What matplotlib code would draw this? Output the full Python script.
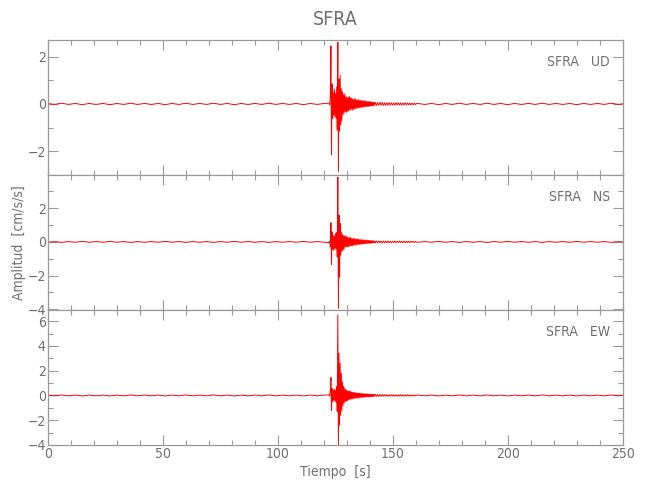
import matplotlib
matplotlib.use("Agg")
import matplotlib.pyplot as plt
from matplotlib.ticker import MultipleLocator
import numpy as np

plt.rcParams['font.family'] = ['DejaVu Sans']
plt.rcParams['font.stretch'] = 'condensed'

estacion = "SFRA"
componentes = ["UD", "NS", "EW"]

# muestreo de los tramos (s)
t_pre = np.arange(0, 122.25, 3.0)
t_sismo = np.arange(122.25, 142.25, 0.25)
t_coda = np.arange(142.25, 160.75, 0.5)
t_post = np.arange(160.75, 251.0, 3.0)

# ruido antes del evento (cm/s/s)
pre_ud = [0.02, -0.02, 0.03, -0.02, 0.02, -0.03, 0.02, -0.02, 0.02, -0.03, 0.02, -0.02, 0.03, -0.02,
          0.02, -0.02, 0.02, -0.03, 0.02, -0.02, 0.03, -0.02, 0.02, -0.02, 0.03, -0.02, 0.02, -0.03,
          0.02, -0.02, 0.02, -0.02, 0.03, -0.02, 0.02, -0.02, 0.02, -0.03, 0.02, -0.02, 0.02]
pre_ns = [-0.02, 0.02, -0.03, 0.02, -0.02, 0.03, -0.02, 0.02, -0.02, 0.03, -0.02, 0.02, -0.03, 0.02,
          -0.02, 0.02, -0.02, 0.03, -0.02, 0.02, -0.03, 0.02, -0.02, 0.02, -0.03, 0.02, -0.02, 0.03,
          -0.02, 0.02, -0.02, 0.02, -0.03, 0.02, -0.02, 0.02, -0.02, 0.03, -0.02, 0.02, -0.02]
pre_ew = [0.03, -0.03, 0.04, -0.03, 0.03, -0.04, 0.03, -0.03, 0.03, -0.04, 0.03, -0.03, 0.04, -0.03,
          0.03, -0.03, 0.03, -0.04, 0.03, -0.03, 0.04, -0.03, 0.03, -0.03, 0.04, -0.03, 0.03, -0.04,
          0.03, -0.03, 0.03, -0.03, 0.04, -0.03, 0.03, -0.03, 0.03, -0.04, 0.03, -0.03, 0.03]

# parte fuerte del registro, cada 0.25 s desde 122.25 s
sismo_ud = [0.03, -0.04, 0.35, 2.45, -2.15, 0.85, -0.62, 0.5, -0.48, 0.62, -0.55, 0.45, -0.6, 0.72, -1.1, 2.6,
            -2.85, 1.05, -1.15, 1.2, -0.9, 0.65, -0.72, 0.52, -0.45, 0.4, -0.38, 0.42, -0.33, 0.3, -0.35, 0.28,
            -0.3, 0.27, -0.3, 0.32, -0.25, 0.26, -0.22, 0.24, -0.27, 0.2, -0.22, 0.19, -0.21, 0.23, -0.18, 0.17,
            -0.19, 0.16, -0.17, 0.18, -0.15, 0.14, -0.16, 0.15, -0.13, 0.14, -0.14, 0.12, -0.13, 0.14, -0.11, 0.1,
            -0.11, 0.12, -0.1, 0.09, -0.11, 0.1, -0.09, 0.1, -0.08, 0.09, -0.08, 0.07, -0.08, 0.07, -0.07, 0.06]
sismo_ns = [-0.04, 0.03, -0.3, 1.15, -1.35, 0.6, -0.45, 0.4, -0.5, 0.35, -0.42, 0.5, -0.38, 0.55, -0.9, 3.85,
            -3.95, 1.6, -2.1, 1.1, -0.8, 0.6, -0.55, 0.45, -0.5, 0.38, -0.42, 0.35, -0.3, 0.36, -0.28, 0.3,
            -0.28, 0.26, -0.3, 0.24, -0.22, 0.27, -0.23, 0.2, -0.24, 0.19, -0.2, 0.22, -0.17, 0.18, -0.19, 0.16,
            -0.16, 0.17, -0.14, 0.15, -0.16, 0.13, -0.14, 0.14, -0.12, 0.13, -0.12, 0.11, -0.12, 0.11, -0.1, 0.1,
            -0.1, 0.09, -0.09, 0.1, -0.08, 0.09, -0.08, 0.08, -0.08, 0.07, -0.07, 0.07, -0.06, 0.06, -0.05, 0.05]
sismo_ew = [0.05, -0.04, 0.4, 1.45, -1.2, 0.55, -0.5, 0.45, -0.4, 0.5, -0.45, 0.42, -0.55, 0.7, -1.3, 6.5,
            -4.1, 3.4, -2.4, 2.6, -1.6, 1.8, -1.2, 1.1, -0.8, 0.75, -0.6, 0.55, -0.5, 0.48, -0.45, 0.4,
            -0.42, 0.36, -0.35, 0.38, -0.3, 0.32, -0.3, 0.27, -0.28, 0.25, -0.26, 0.24, -0.22, 0.23, -0.21, 0.2,
            -0.2, 0.19, -0.2, 0.18, -0.17, 0.18, -0.16, 0.17, -0.15, 0.15, -0.16, 0.14, -0.13, 0.14, -0.13, 0.12,
            -0.12, 0.13, -0.11, 0.12, -0.11, 0.1, -0.11, 0.1, -0.1, 0.1, -0.09, 0.09, -0.09, 0.08, -0.09, 0.08]

# coda, cada 0.5 s desde 142.25 s
coda_ud = [0.06, -0.07, 0.06, -0.06, 0.07, -0.05, 0.06, -0.06, 0.05, -0.06, 0.05, -0.05, 0.06, -0.05,
           0.05, -0.05, 0.04, -0.05, 0.05, -0.04, 0.05, -0.04, 0.04, -0.05, 0.04, -0.04, 0.05, -0.04,
           0.04, -0.04, 0.04, -0.04, 0.03, -0.03, 0.03, -0.03, 0.02]
coda_ns = [-0.06, 0.06, -0.05, 0.06, -0.05, 0.05, -0.06, 0.05, -0.05, 0.05, -0.04, 0.05, -0.05, 0.04,
           -0.05, 0.04, -0.04, 0.05, -0.04, 0.04, -0.04, 0.05, -0.04, 0.04, -0.04, 0.04, -0.05, 0.04,
           -0.04, 0.04, -0.04, 0.04, -0.03, 0.03, -0.03, 0.03, -0.02]
coda_ew = [0.08, -0.08, 0.07, -0.08, 0.07, -0.07, 0.08, -0.06, 0.07, -0.06, 0.06, -0.07, 0.06, -0.06,
           0.06, -0.05, 0.06, -0.06, 0.05, -0.06, 0.05, -0.05, 0.06, -0.05, 0.05, -0.05, 0.05, -0.05,
           0.05, -0.05, 0.04, -0.04, 0.04, -0.04, 0.03, -0.03, 0.03]

# ruido despues del evento
post_ud = [0.02, -0.02, 0.02, -0.03, 0.02, -0.02, 0.03, -0.02, 0.02, -0.02, 0.03, -0.02, 0.02, -0.03, 0.02,
           -0.02, 0.02, -0.02, 0.03, -0.02, 0.02, -0.02, 0.02, -0.03, 0.02, -0.02, 0.02, -0.02, 0.03, -0.02, 0.02]
post_ns = [-0.02, 0.02, -0.02, 0.03, -0.02, 0.02, -0.03, 0.02, -0.02, 0.02, -0.03, 0.02, -0.02, 0.03, -0.02,
           0.02, -0.02, 0.02, -0.03, 0.02, -0.02, 0.02, -0.02, 0.03, -0.02, 0.02, -0.02, 0.02, -0.03, 0.02, -0.02]
post_ew = [0.03, -0.03, 0.03, -0.04, 0.03, -0.03, 0.04, -0.03, 0.03, -0.03, 0.04, -0.03, 0.03, -0.04, 0.03,
           -0.03, 0.03, -0.03, 0.04, -0.03, 0.03, -0.03, 0.03, -0.04, 0.03, -0.03, 0.03, -0.03, 0.04, -0.03, 0.03]

limites_y = [(-3.0, 2.7), (-4.05, 3.98), (-4.0, 6.9)]
trazas = [(pre_ud, sismo_ud, coda_ud, post_ud),
          (pre_ns, sismo_ns, coda_ns, post_ns),
          (pre_ew, sismo_ew, coda_ew, post_ew)]

gris = '#707070'
gris_ejes = '#9a9a9a'

fig, axs = plt.subplots(3, 1, figsize=(6.5, 5), dpi=100, sharex=True)
fig.subplots_adjust(left=0.0734, right=0.959, top=0.92, bottom=0.11, hspace=0)

t = np.concatenate((t_pre, t_sismo, t_coda, t_post))
for ax, comp, partes, lim in zip(axs, componentes, trazas, limites_y):
    y = np.concatenate([np.asarray(p) for p in partes])
    ax.plot(t, y, color='red', lw=0.7)
    ax.set_xlim(0, 250)
    ax.set_ylim(*lim)
    ax.xaxis.set_major_locator(MultipleLocator(50))
    ax.xaxis.set_minor_locator(MultipleLocator(10))
    ax.yaxis.set_major_locator(MultipleLocator(2))
    ax.yaxis.set_minor_locator(MultipleLocator(1))
    ax.tick_params(which='both', direction='in', top=True, right=True, color=gris_ejes,
                   labelcolor=gris, labelsize=10, width=0.8, pad=1.5)
    ax.tick_params(which='major', length=7)
    ax.tick_params(which='minor', length=3.5)
    for s in ax.spines.values():
        s.set_color(gris_ejes)
        s.set_linewidth(0.9)
    ax.text(0.977, 0.84, estacion + "   " + comp, transform=ax.transAxes,
            ha='right', va='center', color=gris, fontsize=10)

axs[0].set_title(estacion, color=gris, fontsize=14, pad=11)
axs[1].set_ylabel("Amplitud  [cm/s/s]", color=gris, fontsize=10, labelpad=1)
axs[2].set_xlabel("Tiempo  [s]", color=gris, fontsize=10, labelpad=3)

fig.savefig("out.png", dpi=100)
